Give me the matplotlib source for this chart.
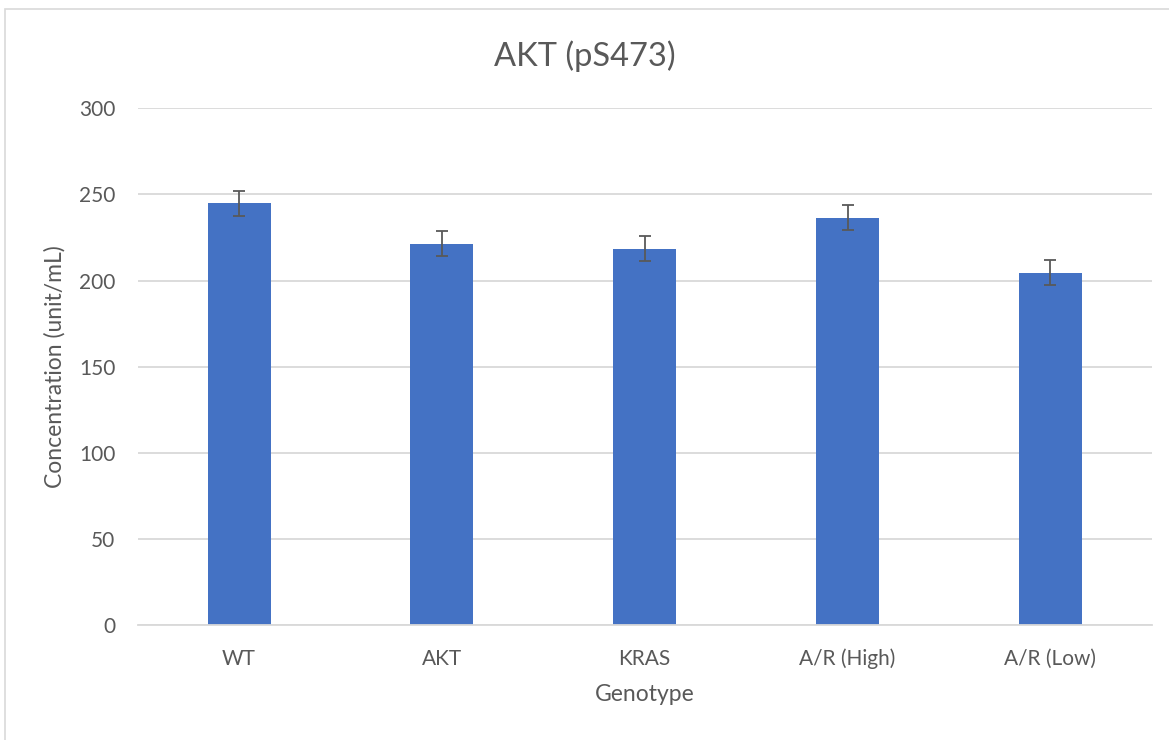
import matplotlib
matplotlib.use("Agg")
import matplotlib.pyplot as plt
from matplotlib.patches import Rectangle

plt.rcParams["font.family"] = ["Lato", "DejaVu Sans"]

# ---- data ----
genotypes = ["WT", "AKT", "KRAS", "A/R (High)", "A/R (Low)"]
concentration = [244.8, 221.4, 218.5, 236.5, 204.5]
errors = [7.2, 7.1, 7.15, 7.2, 7.2]

BAR_COLOR = "#4472C4"
TEXT_COLOR = "#595959"
GRID_COLOR = "#D9D9D9"

fig = plt.figure(figsize=(11.69, 7.40), dpi=100)
ax = fig.add_axes([137.7 / 1169, 1 - 625 / 740, (1151.7 - 137.7) / 1169, (625 - 108.3) / 740])

x = list(range(len(genotypes)))
ax.bar(x, concentration, width=0.31, color=BAR_COLOR, zorder=2)
ax.errorbar(x, concentration, yerr=errors, fmt="none", ecolor=TEXT_COLOR,
            elinewidth=1.3, capsize=4.3, capthick=1.3, zorder=3)

ax.set_xlim(-0.5, len(genotypes) - 0.5)
ax.set_ylim(0, 300)
ax.set_yticks(range(0, 301, 50))
ax.set_xticks(x)
ax.set_xticklabels(genotypes)
ax.yaxis.grid(True, color=GRID_COLOR, linewidth=1.3, zorder=0)
ax.set_axisbelow(True)

for side in ("top", "right", "left"):
    ax.spines[side].set_visible(False)
ax.spines["bottom"].set_color(GRID_COLOR)
ax.spines["bottom"].set_linewidth(1.3)
ax.tick_params(axis="both", length=0, colors=TEXT_COLOR, labelsize=15)
ax.tick_params(axis="y", pad=16)
ax.tick_params(axis="x", pad=17)

ax.set_xlabel("Genotype", fontsize=16.5, color=TEXT_COLOR, labelpad=11)
ax.set_ylabel("Concentration (unit/mL)", fontsize=16.5, color=TEXT_COLOR, labelpad=10)
fig.text(0.5, 1 - 56 / 740, "AKT (pS473)", ha="center", va="center",
         fontsize=23.5, color=TEXT_COLOR)

# chart border like the spreadsheet chart frame
fig.patches.append(Rectangle((4.5 / 1169, -0.01), 1.02, 1 - 9.3 / 740 + 0.01,
                             transform=fig.transFigure, fill=False,
                             edgecolor=GRID_COLOR, linewidth=1.2))

fig.savefig("out.png", dpi=100, facecolor="white")
